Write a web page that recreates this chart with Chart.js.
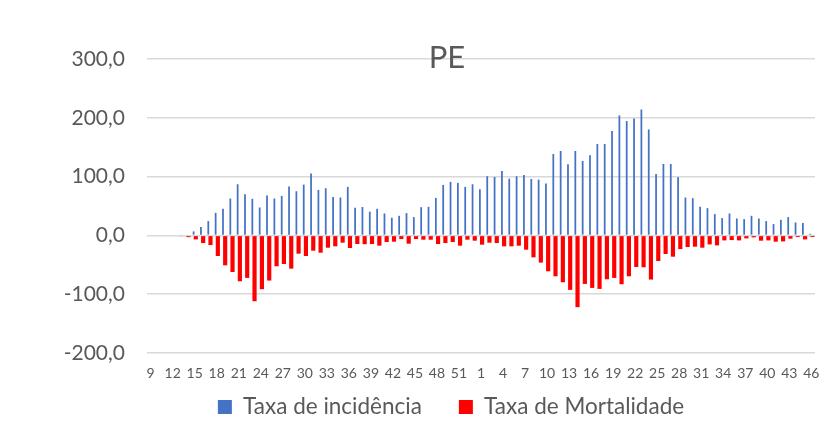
<!DOCTYPE html>
<html>
<head>
<meta charset="utf-8">
<script src="https://cdn.jsdelivr.net/npm/chart.js@4.4.1/dist/chart.umd.min.js"></script>
<style>
  html, body { margin: 0; padding: 0; background: #ffffff; }
  #wrap { width: 833px; height: 425px; }
</style>
</head>
<body>
<div id="wrap"><canvas id="c" width="833" height="425"></canvas></div>
<script>
// Epidemiological weeks: 2020 (9..53) then 2021 (1..46)
const weeks = [
  "9","10","11","12","13","14","15","16","17","18","19","20","21","22","23","24","25","26","27","28",
  "29","30","31","32","33","34","35","36","37","38","39","40","41","42","43","44","45","46","47","48",
  "49","50","51","52","53",
  "1","2","3","4","5","6","7","8","9","10","11","12","13","14","15","16","17","18","19","20",
  "21","22","23","24","25","26","27","28","29","30","31","32","33","34","35","36","37","38","39","40",
  "41","42","43","44","45","46"
];

const taxaIncidencia = [
  0, 0, 0, 0, 0, 0, 6.8, 14.1, 24.3, 38.4,
  45.2, 62.7, 87.0, 70.0, 62.2, 47.5, 67.8, 62.7, 67.2, 83.0,
  75.1, 86.4, 105.1, 77.4, 80.2, 65.5, 64.4, 82.5, 46.9, 48.3,
  40.4, 45.2, 37.3, 30.0, 33.3, 37.9, 31.1, 48.0, 48.6, 63.8,
  85.9, 91.0, 89.3, 82.5, 87.0, 78.5, 100.6, 99.4, 109.6, 96.6,
  100.6, 102.8, 96.0, 94.9, 88.1, 138.4, 143.5, 120.9, 143.5, 126.6,
  136.2, 155.4, 155.4, 177.4, 204.0, 194.4, 198.9, 214.1, 180.2, 104.5,
  121.5, 121.5, 98.9, 64.4, 63.3, 48.6, 46.3, 36.2, 29.4, 37.3,
  28.8, 27.7, 33.3, 28.8, 24.3, 19.2, 26.6, 31.1, 22.0, 20.9,
  2.8
];

const taxaMortalidade = [
  0, 0, 0, 0, -1.5, -3.0, -6.8, -13.0, -16.4, -35.0,
  -50.9, -62.2, -78.0, -72.3, -111.9, -91.5, -76.8, -52.5, -48.6, -56.5,
  -31.1, -35.0, -26.0, -29.4, -20.9, -18.6, -12.4, -21.5, -14.7, -15.0,
  -14.7, -17.5, -11.3, -10.7, -6.2, -14.1, -6.2, -7.3, -7.3, -14.7,
  -13.0, -11.3, -17.5, -7.3, -9.0, -15.8, -12.4, -13.0, -18.6, -18.6,
  -17.5, -24.3, -37.3, -46.3, -61.0, -69.5, -79.7, -92.7, -122.0, -82.5,
  -89.3, -91.0, -74.6, -72.3, -83.0, -69.5, -53.7, -54.2, -75.1, -43.5,
  -31.6, -36.2, -23.2, -19.8, -19.2, -20.9, -15.3, -17.0, -8.5, -7.9,
  -8.5, -5.1, -3.4, -9.0, -8.5, -10.7, -10.2, -5.6, -2.8, -6.8,
  -2.8
];

const seriesNames = ["Taxa de incidência", "Taxa de Mortalidade"];
const chartTitle = "PE";
const yMin = -200, yMax = 300, yStep = 100;

const FONT = "Lato, 'Open Sans', sans-serif";
const GREY = "#595959";
const LEGEND_PAD = 37;
const LEGEND_FONT = 22.5;

// Place title and legend where Excel put them (off the canvas centre)
const placeBoxes = {
  id: "placeBoxes",
  afterLayout(chart) {
    const t = chart.titleBlock;
    if (t) { const w = t.right - t.left; t.left = 447 - w / 2; t.right = 447 + w / 2; }
    const l = chart.legend;
    if (l) {
      const w = l.right - l.left; const c = 451;
      l.left = c - w / 2; l.right = c + w / 2;
      const h = LEGEND_FONT + 2 * LEGEND_PAD + 10;
      l.top = 407 - LEGEND_PAD - LEGEND_FONT / 2;
      l.height = h; l.bottom = l.top + h;
    }
  }
};

new Chart(document.getElementById("c"), {
  type: "bar",
  data: {
    labels: weeks,
    datasets: [
      {
        label: seriesNames[0],
        data: taxaIncidencia,
        backgroundColor: "#4472C4",
        categoryPercentage: 0.6,
        barPercentage: 0.8
      },
      {
        label: seriesNames[1],
        data: taxaMortalidade,
        backgroundColor: "#FF0000",
        categoryPercentage: 0.6,
        barPercentage: 1.9
      }
    ]
  },
  plugins: [placeBoxes],
  options: {
    responsive: false,
    animation: false,
    devicePixelRatio: 1,
    layout: { padding: { left: 0, right: 18, top: 0, bottom: 0 } },
    plugins: {
      title: {
        display: true,
        text: chartTitle,
        color: GREY,
        font: { family: FONT, size: 31, weight: "normal", lineHeight: 1 },
        padding: { top: 42, bottom: -14 }
      },
      legend: {
        display: true,
        position: "bottom",
        maxHeight: 40,
        labels: {
          color: GREY,
          font: { family: FONT, size: LEGEND_FONT },
          boxWidth: 14,
          boxHeight: 14,
          padding: LEGEND_PAD
        }
      },
      tooltip: { enabled: false }
    },
    scales: {
      x: {
        grid: { display: false, drawTicks: false },
        border: { display: false },
        ticks: {
          color: GREY,
          font: { family: FONT, size: 14 },
          autoSkip: false,
          maxRotation: 0,
          minRotation: 0,
          padding: 12,
          callback: function (value, index) {
            return index % 3 === 0 ? weeks[index] : "";
          }
        },
        afterFit: function (scale) { scale.height = 32; }
      },
      y: {
        min: yMin,
        max: yMax,
        grid: { color: "#d9d9d9", lineWidth: 1.5, drawTicks: false },
        border: { display: false },
        ticks: {
          stepSize: yStep,
          color: GREY,
          font: { family: FONT, size: 21 },
          padding: 22,
          callback: function (v) { return v.toFixed(1).replace(".", ","); }
        },
        afterFit: function (scale) { scale.width = 147; }
      }
    }
  }
});
</script>
</body>
</html>
